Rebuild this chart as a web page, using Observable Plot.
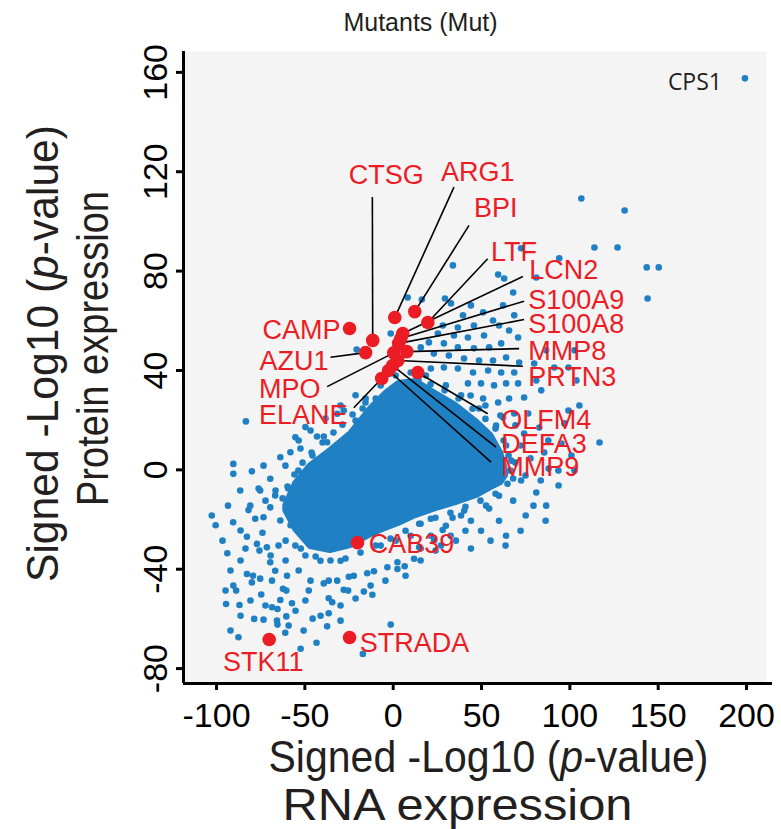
<!DOCTYPE html>
<html><head><meta charset="utf-8">
<script src="https://cdn.jsdelivr.net/npm/d3@7"></script>
<script src="https://cdn.jsdelivr.net/npm/@observablehq/plot@0.6"></script>
<style>body{margin:0;background:#fff;}</style>
</head><body><div id="chart"></div>
<script>
// ---------- data ----------
const xDomain = [-118.7, 214.7];
const yDomain = [-86, 168.4];
const xTicks = [-100, -50, 0, 50, 100, 150, 200];
const yTicks = [-80, -40, 0, 40, 80, 120, 160];

// scattered genes (blue)
const blueX = [199.1,131.0,106.5,113.9,127.0,143.5,150.3,144.0,33.8,72.4,94.0,59.4,62.8,67.9,81.0,8.2,16.2,29.3,32.7,44.0,39.5,50.9,62.2,68.5,56.5,45.7,36.6,28.1,25.3,34.4,42.3,51.4,59.9,65.6,70.7,61.1,54.3,45.7,36.6,28.7,20.2,15.6,23.0,31.5,40.1,48.6,56.5,63.9,71.3,79.8,68.5,61.1,53.7,45.2,36.6,28.7,21.3,81.0,70.7,63.9,57.1,49.7,42.3,83.8,74.1,65.6,59.4,50.9,68.5,62.2,76.4,82.7,74.1,87.8,95.2,100.9,85.5,102.6,93.5,102.6,99.2,103.7,105.4,99.2,96.9,86.6,91.2,116.8,72.4,81.0,67.9,86.6,75.0,59.9,63.9,49.7,44.0,54.3,38.4,29.8,21.3,35.5,44.0,27.0,15.6,-102.7,-90.6,-93.5,-82.8,-93.9,-77.2,-75.7,-71.5,-79.3,-75.3,-80.0,-90.5,-88.9,-94.6,-87.0,-78.7,-73.4,-65.8,-65.5,-87.6,-60.5,-59.2,-61.1,-50.7,-37.4,-36.5,-36.5,-34.5,-63.9,-57.3,-49.7,-68.6,-65.5,-74.7,-62.4,-60.5,-47.8,-28.0,-25.5,-16.6,-11.8,-1.4,-17.2,-39.3,-36.5,-31.7,-25.1,-22.3,-14.7,-10.9,-3.3,2.4,6.5,2.4,11.8,14.7,23.2,28.0,33.6,40.2,21.3,23.2,14.7,11.8,-69.6,-66.8,-68.6,-60.1,-82.8,-78.1,-73.4,-69.6,-83.4,-90.5,-90.5,-80.0,-49.7,-55.4,-53.5,-63.9,-73.4,-69.6,-43.1,-39.3,-31.7,-28.0,-37.4,-58.2,-20.7,-1.4,-66.8,-75.3,-63.9,-80.9,-86.6,-21.3,-17.3,-9.9,-45.7,-53.7,-59.4,-15.6,1.4,-7.1,66.8,67.9,59.9,52.6,63.9,58.2,48.6,38.4,29.8,18.5,9.9,-29.8,-41.2,-49.7,-55.4,-7.1,1.4,9.9,
  -15.7,-23.0,-28.7,-33.8,-40.0,-46.2,-51.3,-55.9,-59.8,-62.6,-21.3,-29.8,-38.3,-46.8,-52.5,-61.0,-66.6,-72.3,-76.2,-81.9,-86.4,-96.6,-100.5,
  -52.3,-43.9,-35.5,-27.0,-18.5,-10.0,-1.5,7.0,15.5,23.9,32.4,40.9,49.4,57.9,64.7,-60.9,-58.1,
  66.4,65.3,62.5,57.9,52.2,44.9,37.0,29.1,21.1,14.3,
  43.8,52.2,60.7,69.2,72.0,77.7,69.2,74.9,83.5,88.0,93.6,79.4,86.3,72.1,63.6,55.1,40.9,32.5,24.0,15.5,7.0,-4.4,-12.8,-21.3,-29.8,-41.1,-46.8,-53.5,-60.9,-69.4,-74.0,-64.9,-86.4,-83.6,-92.1,-94.9,-86.4,-80.8,-72.3,-55.3,-45.6,-29.8,-43.4,-52.4,-92.1];
const blueY = [157.6,104.4,109.2,89.5,89.5,81.5,81.5,69.0,82.3,89.2,85.2,78.6,77.0,71.4,77.4,69.4,68.6,69.0,67.0,66.2,62.2,63.4,66.2,62.2,60.1,58.1,57.3,58.1,54.9,54.1,53.3,54.1,58.1,56.1,53.3,50.9,49.3,48.9,49.3,50.9,51.3,49.3,46.8,46.0,44.8,44.0,44.0,45.2,43.2,42.8,39.2,39.2,40.0,39.2,40.8,41.2,40.8,36.0,34.8,34.8,34.0,34.8,34.8,32.0,29.1,28.7,27.1,28.7,22.7,21.1,22.7,17.0,14.6,11.8,10.6,5.8,7.0,-0.3,-0.3,48.1,41.2,36.0,25.9,23.9,18.7,48.1,41.2,11.0,-4.3,-9.1,-12.4,-14.4,-18.4,-20.5,-26.5,-24.5,-20.5,-15.6,-18.4,-22.5,-26.5,-28.5,-31.7,-30.5,-31.7,-18.4,-21.1,-14.4,-26.9,-33.6,-29.8,-32.5,-31.2,-42.6,-43.8,-45.3,-46.6,-48.6,-54.0,-54.4,-60.0,-60.3,-60.7,-62.3,-67.4,-59.0,-62.7,-65.6,-64.7,-63.0,-57.7,-51.7,-53.3,-52.4,-53.7,-52.6,-55.3,-56.0,-50.2,-47.9,-48.6,-48.6,-48.3,-48.6,-49.0,-50.3,-62.3,-74.1,-45.7,-44.6,-44.6,-43.0,-42.6,-41.6,-40.8,-39.2,-39.9,-38.8,-37.2,-35.8,-31.2,-28.5,-24.2,-19.3,-16.4,-19.7,-13.7,-21.7,-16.4,-37.2,-40.6,-44.6,-42.6,-41.9,-19.7,-19.1,-15.1,19.5,2.4,-1.6,-0.6,17.2,13.1,11.8,5.1,1.7,-3.6,13.4,13.4,22.6,23.9,11.1,7.1,48.4,54.9,-10.3,-8.3,-20.4,-14.4,-8.3,19.8,24.7,28.7,5.8,-0.3,-7.5,28.7,38.0,34.0,3.7,-3.5,-10.4,-14.4,9.8,17.8,24.7,30.0,34.0,38.0,39.2,-36.6,-36.6,-34.5,-30.5,-30.5,-28.5,-26.5,
  27.1,22.3,18.2,15.0,11.0,7.0,2.9,-1.9,-6.7,-11.5,30.0,25.9,20.7,15.8,8.6,1.7,-8.3,-12.4,-7.5,-16.2,-24.4,-28.5,-22.3,
  -31.7,-34.9,-36.5,-35.7,-33.3,-30.5,-27.7,-24.5,-21.7,-19.3,-17.3,-14.9,-12.4,-9.6,-5.6,-28.5,-22.3,
  -0.3,5.8,11.8,16.6,20.5,24.6,28.7,32.0,34.4,36.0,
  29.9,25.9,21.9,17.9,9.8,4.6,2.9,-2.3,-4.3,0.5,-6.3,-14.4,-20.5,-24.5,-30.5,-28.5,-24.5,-26.5,-32.5,-36.5,-42.6,-44.6,-46.6,-51.8,-54.6,-58.7,-44.6,-40.5,-36.5,-34.5,-25.3,-30.5,-36.5,-31.7,-40.5,-48.6,-58.7,-52.6,-54.6,-56.7,-59.9,-60.7,-69.6,-72.0,-64.7];

// dense core of the cloud: lower / upper edge at each RNA value
const coreX    = [-61.1,-55.4,-46.9,-35.5,-24.1,-12.8,-4.3,3.1,12.8,24.1,35.5,46.9,55.4,61.1,63.9];
const coreHigh = [-14.4,-5.3,1.9,8.0,14.8,24.9,30.9,35.0,35.8,30.9,26.1,19.7,14.0,6.8,-0.3];
const coreLow  = [-16.4,-24.2,-31.1,-32.7,-30.7,-26.3,-23.8,-21.8,-18.6,-15.8,-13.4,-10.6,-7.3,-5.3,-2.3];

// highlighted genes (red)
const geneNames = ["CTSG","ARG1","BPI","LTF","LCN2","S100A9","S100A8","MMP8","PRTN3","OLFM4","DEFA3","MMP9","CAMP","AZU1","MPO","ELANE","CAB39","STRADA","STK11"];
const geneX = [-11.6,0.9,12.2,19.6,5.4,4.3,3.1,7.7,2.6,13.9,-0.3,-2.6,-24.7,-15.6,0.3,-6.5,-20.2,-24.7,-70.2];
const geneY = [52.1,61.3,63.7,59.3,54.9,52.9,50.9,47.6,44.0,39.2,42.0,40.0,56.9,47.2,47.1,36.8,-29.3,-67.5,-68.3];
const labelX = [-4.0,27.0,45.7,55.4,77.0,76.4,76.4,76.4,76.4,61.1,61.1,61.1,-29.8,-36.6,-41.2,-25.9,-13.9,-19.0,-73.6];
const labelY = [118.5,119.7,105.2,87.7,80.2,68.2,58.5,47.6,37.2,19.9,10.2,0.9,56.1,43.6,32.4,21.9,-30.1,-69.9,-77.6];
const labelAnchor = ["middle","start","start","start","start","start","start","start","start","start","start","start","end","end","end","end","start","start","middle"];
const leaderX = [-11.8,34.4,42.9,53.5,73.4,74.1,74.1,71.3,73.4,53.5,58.2,55.4,null,-35.5,-37.4,-22.3,null,null,null];
const leaderY = [109.8,113.8,98.4,85.0,77.8,67.9,60.5,48.8,41.7,22.6,9.1,3.1,null,45.3,33.5,25.0,null,null,null];

const outlierName = ["CPS1"];
const outlierLabelX = [186.1];
const outlierLabelY = [156.0];

// ---------- tables ----------
const blue = blueX.map((x, i) => ({x, y: blueY[i]}));
const core = coreX.map((x, i) => ({x, lo: coreLow[i], hi: coreHigh[i]}));
const genes = geneNames.map((g, i) => ({gene: g, x: geneX[i], y: geneY[i], lx: labelX[i], ly: labelY[i], anchor: labelAnchor[i], sx: leaderX[i], sy: leaderY[i]}));
const leaders = genes.filter(d => d.sx != null);
const outl = outlierName.map((g, i) => ({g, x: outlierLabelX[i], y: outlierLabelY[i]}));

const BLUE = "#1f80c4", RED = "#ec1c24";
const FONT = "'Liberation Sans', Arial, Helvetica, sans-serif";

const labelMarks = ["start", "middle", "end"].map(a =>
  Plot.text(genes.filter(d => d.anchor === a), {x: "lx", y: "ly", text: "gene", textAnchor: a, fill: RED, fontSize: 27}));

const svg = Plot.plot({
  width: 781, height: 829,
  marginLeft: 183, marginRight: 9, marginTop: 51, marginBottom: 146,
  x: {domain: xDomain},
  y: {domain: yDomain},
  style: {fontFamily: FONT, background: "white", color: "black", overflow: "visible"},
  marks: [
    Plot.frame({fill: "#f4f4f4", stroke: null, insetRight: 6}),
    Plot.areaY(core, {x: "x", y1: "lo", y2: "hi", fill: BLUE, stroke: BLUE, strokeWidth: 5, strokeLinejoin: "round"}),
    Plot.dot(blue, {x: "x", y: "y", r: 3.3, fill: BLUE}),
    Plot.link(leaders, {x1: "sx", y1: "sy", x2: "x", y2: "y", stroke: "black", strokeWidth: 1.6}),
    Plot.dot(genes, {x: "x", y: "y", r: 6.8, fill: RED}),
    ...labelMarks,
    Plot.text(outl, {x: "x", y: "y", text: "g", textAnchor: "end", fill: "#231f20", fontSize: 23, fontFamily: "'Open Sans', sans-serif"}),
    Plot.axisX({ticks: xTicks, tickFormat: d => String(d), tickSize: 7, tickPadding: 12, fontSize: 34, strokeWidth: 3, label: null}),
    Plot.axisY({ticks: yTicks, tickFormat: d => String(d), tickSize: 7, tickPadding: 10, tickRotate: -90, fontSize: 34, strokeWidth: 3, label: null}),
    Plot.ruleX([xDomain[0]], {strokeWidth: 3}),
    Plot.ruleY([yDomain[0]], {strokeWidth: 3}),
    // titles
    Plot.text(["Signed -Log10 (p-value)"], {text: d => d, frameAnchor: "bottom", textAnchor: "middle", dx: 10.5, dy: 88, lineAnchor: "bottom", fontSize: 44, fill: "#231f20"}),
    Plot.text(["RNA expression"], {text: d => d, frameAnchor: "bottom", textAnchor: "middle", dx: -20.5, dy: 136, lineAnchor: "bottom", fontSize: 44, fill: "#231f20"}),
    Plot.text(["Signed -Log10 (p-value)"], {text: d => d, frameAnchor: "left", textAnchor: "middle", dx: -126, dy: -14, rotate: -90, lineAnchor: "bottom", fontSize: 44, fill: "#231f20"}),
    Plot.text(["Protein expression"], {text: d => d, frameAnchor: "left", textAnchor: "middle", dx: -76, dy: -19, rotate: -90, lineAnchor: "bottom", fontSize: 44, fill: "#231f20"}),
    Plot.text(["Mutants (Mut)"], {text: d => d, frameAnchor: "top", textAnchor: "middle", dx: -57.5, dy: -21, lineAnchor: "bottom", fontSize: 25, fill: "#231f20"})
  ]
});

// italic p and fitted widths for the axis titles
const sigLens = [440, 457];
let k = 0;
d3.select(svg).selectAll("text").each(function () {
  const t = this.textContent;
  if (t === "Signed -Log10 (p-value)") {
    const s = d3.select(this);
    s.text(null);
    s.append("tspan").text("Signed -Log10 (");
    s.append("tspan").attr("font-style", "italic").text("p");
    s.append("tspan").text("-value)");
    s.attr("textLength", sigLens[k++]).attr("lengthAdjust", "spacingAndGlyphs");
  } else if (t === "RNA expression") {
    d3.select(this).attr("textLength", 350).attr("lengthAdjust", "spacingAndGlyphs");
  } else if (t === "Protein expression") {
    d3.select(this).attr("textLength", 315).attr("lengthAdjust", "spacingAndGlyphs");
  }
});

document.getElementById("chart").appendChild(svg);
</script>
</body></html>
